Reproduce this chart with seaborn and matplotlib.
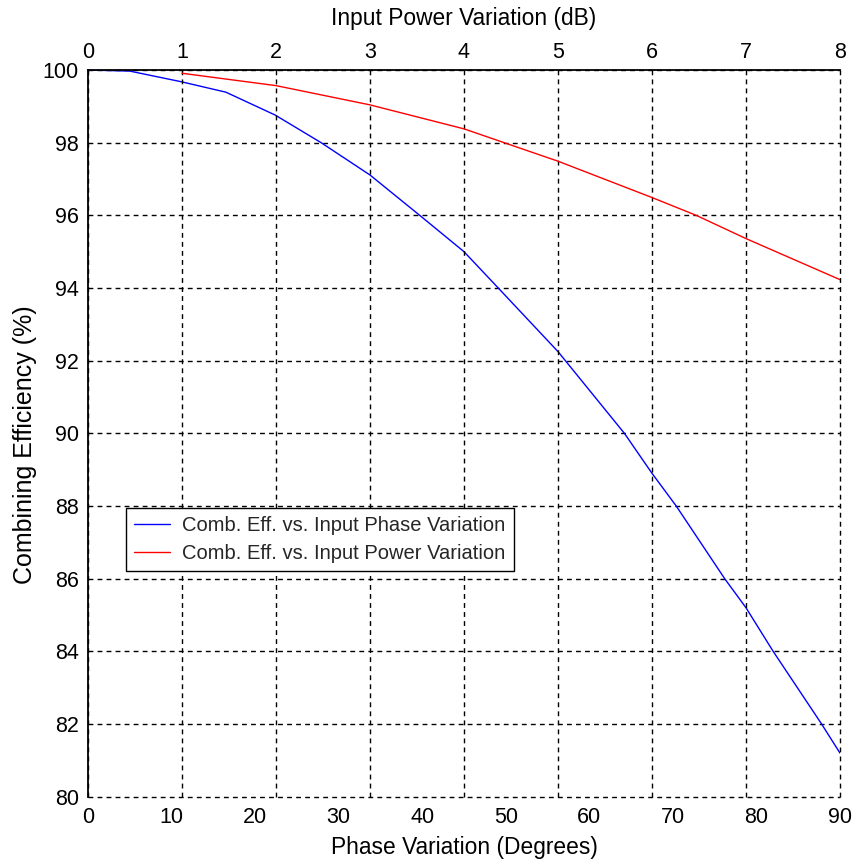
import matplotlib
matplotlib.use("Agg")
import matplotlib.pyplot as plt
import seaborn as sns
import pandas as pd
from matplotlib.lines import Line2D

sns.set_theme(style="white")
plt.rcParams['font.family'] = ['Liberation Sans', 'DejaVu Sans']

# Blue series: efficiency vs phase variation (degrees, bottom axis)
phase_deg = [0, 5, 11.1, 16.5, 22.4, 27.9, 33.75, 39.7, 45, 49.1, 56.25,
             64.2, 67.5, 70.4, 76.2, 78.75, 82, 87.8, 90]
phase_eff = [100, 99.97, 99.68, 99.39, 98.76, 98.0, 97.11, 96.0, 95.0, 94.0, 92.25,
             90.0, 88.9, 88.0, 86.0, 85.2, 84.0, 82.0, 81.2]

# Red series: efficiency vs input power variation (dB, top axis)
power_db = [1, 2, 3, 4, 5, 6, 6.47, 7, 8]
power_eff = [99.91, 99.57, 99.04, 98.38, 97.49, 96.49, 96.0, 95.36, 94.23]

phase_ticks = list(range(0, 91, 10))
power_ticks = list(range(0, 9))
eff_ticks = list(range(80, 101, 2))

label_phase = "Comb. Eff. vs. Input Phase Variation"
label_power = "Comb. Eff. vs. Input Power Variation"

df_phase = pd.DataFrame({"deg": phase_deg, "eff": phase_eff})
df_power = pd.DataFrame({"db": power_db, "eff": power_eff})

fig = plt.figure(figsize=(8.54, 8.61), dpi=100)
ax1 = fig.add_axes([88/854, 1-796.7/861, (840-88)/854, (796.7-70)/861])
ax1.set_facecolor("white")
ax2 = ax1.twiny()

FS = 15.5
grid_kw = dict(color="black", linestyle=(0, (3.5, 3)), linewidth=1.0)

# bottom axis (phase)
sns.lineplot(data=df_phase, x="deg", y="eff", ax=ax1, color="#0000ff", linewidth=1.0,
             label=label_phase, legend=False)
ax1.set_xlim(0, 90)
ax1.set_ylim(80, 100)
ax1.set_xticks(phase_ticks)
ax1.set_yticks(eff_ticks)
ax1.tick_params(axis="x", length=0, pad=7.5, labelsize=FS, colors="black")
ax1.tick_params(axis="y", direction="in", length=0, pad=6.5, labelsize=FS, colors="black")
ax1.yaxis.grid(True, **grid_kw)
ax1.xaxis.grid(False)
for gl in ax1.get_ygridlines():
    gl.set_clip_on(False)
for s in ["bottom", "right", "top"]:
    ax1.spines[s].set_visible(False)
ax1.spines["left"].set_color("black")
ax1.spines["left"].set_linewidth(1.3)
ax1.set_xlabel("Phase Variation (Degrees)", fontsize=16.4, labelpad=6, color="black")
ax1.set_ylabel("Combining Efficiency (%)", fontsize=18, color="black")
ax1.yaxis.set_label_coords(-0.068, 0.484)

# top axis (power)
sns.lineplot(data=df_power, x="db", y="eff", ax=ax2, color="#ff0000", linewidth=1.0,
             label=label_power, legend=False)
ax2.set_xlim(0, 8)
ax2.set_xticks(power_ticks)
ax2.tick_params(axis="x", length=0, pad=5, labelsize=FS, colors="black")
ax2.xaxis.grid(True, **grid_kw)
ax2.yaxis.grid(False)
for gl in ax2.get_xgridlines():
    gl.set_clip_on(False)
for s in ["bottom", "right", "left"]:
    ax2.spines[s].set_visible(False)
ax2.spines["top"].set_color("black")
ax2.spines["top"].set_linewidth(1.3)
ax2.set_xlabel("Input Power Variation (dB)", fontsize=16.4, labelpad=12, color="black")
ax2.set_ylabel("")
ax2.set_ylim(80, 100)

handles = [Line2D([], [], color="#0000ff", linewidth=1.0),
           Line2D([], [], color="#ff0000", linewidth=1.0)]
leg = ax2.legend(handles, [label_phase, label_power], loc="upper left",
                 bbox_to_anchor=((126-88)/752, (796.7-508)/726.7),
                 fontsize=14.5, frameon=True, fancybox=False, framealpha=1,
                 edgecolor="black", handlelength=1.8, handletextpad=0.6,
                 borderpad=0.4, labelspacing=0.45, borderaxespad=0)
leg.get_frame().set_linewidth(1.0)

fig.savefig("out.png", dpi=100, facecolor="white")
